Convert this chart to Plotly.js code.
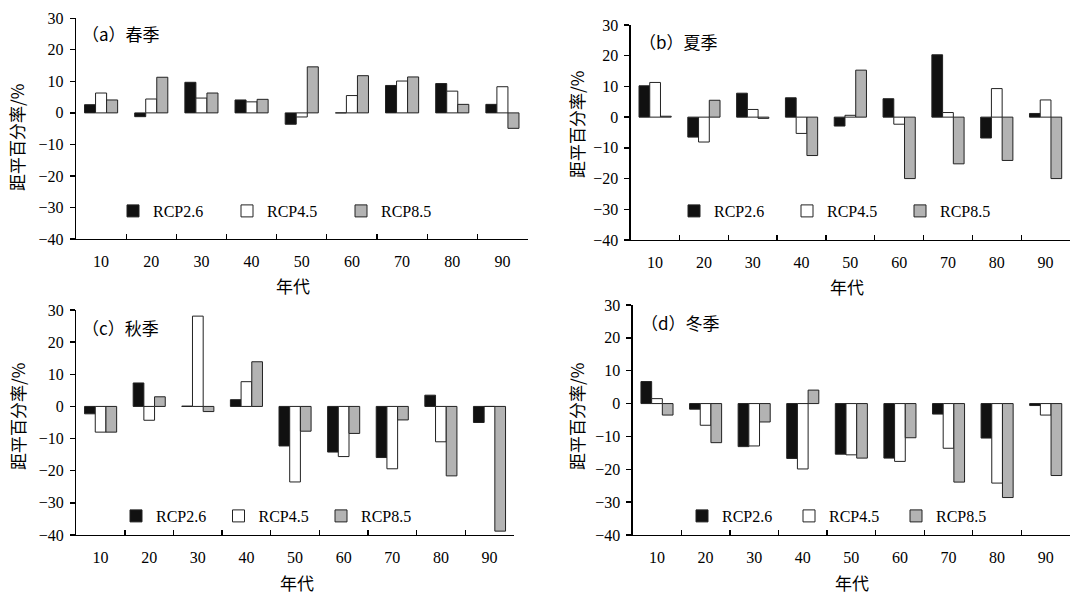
<!DOCTYPE html>
<html>
<head>
<meta charset="utf-8">
<script src="https://cdn.plot.ly/plotly-3.0.1.min.js"></script>
<style>html,body{margin:0;padding:0;background:#fff;}#chart{width:1070px;height:596px;}</style>
</head>
<body>
<div id="chart"></div>
<script>
// ---- data ----
const decades = ['10','20','30','40','50','60','70','80','90'];
const seriesNames = ['RCP2.6','RCP4.5','RCP8.5'];
const panelTitles = ['（a）春季','（b）夏季','（c）秋季','（d）冬季'];
const xTitle = '年代';
const yTitle = '距平百分率/%';

const spring26 = [2.6,-1.2,9.7,4.1,-3.6,0,8.7,9.3,2.7];
const spring45 = [6.3,4.4,4.7,3.5,-1.3,5.5,10.1,6.9,8.3];
const spring85 = [4.1,11.3,6.3,4.3,14.6,11.8,11.4,2.7,-4.9];

const summer26 = [10.2,-6.5,7.8,6.3,-2.9,6.0,20.3,-6.8,1.2];
const summer45 = [11.3,-8.1,2.5,-5.3,0.6,-2.3,1.5,9.3,5.6];
const summer85 = [0.3,5.5,-0.4,-12.5,15.3,-20.0,-15.2,-14.1,-20.0];

const autumn26 = [-2.3,7.3,0.1,2.1,-12.3,-14.2,-15.9,3.5,-5.0];
const autumn45 = [-8.0,-4.3,28.1,7.7,-23.5,-15.6,-19.4,-11.0,0];
const autumn85 = [-8.0,3.0,-1.6,13.9,-7.7,-8.4,-4.2,-21.6,-38.8];

const winter26 = [6.7,-1.7,-13.1,-16.7,-15.4,-16.6,-3.2,-10.5,-0.6];
const winter45 = [1.5,-6.6,-12.9,-19.9,-15.6,-17.6,-13.6,-24.2,-3.5];
const winter85 = [-3.5,-11.9,-5.6,4.1,-16.6,-10.4,-23.9,-28.6,-21.9];

const yRange = [-40, 30];

// ---- styles / layout ----
const W = 1070, H = 596;
const FONT = 'Liberation Serif';
const CJK = 'Noto Sans CJK SC';
const fills = ['#111111', '#ffffff', '#b3b3b3'];

function xd(l, r) { return [l / W, Math.min(r / W, 1)]; }
function yd(b, t) { return [1 - b / H, 1 - t / H]; }

const panels = [
  { data: [spring26, spring45, spring85], xdom: xd(76, 527.5),   ydom: yd(239, 18.3), title: [80, 34],  legend: {x: 113, y: 211, w: 69}, ytl: [17, 138], xtl: [293, 285] },
  { data: [summer26, summer45, summer85], xdom: xd(630.7, 1070), ydom: yd(240, 25),   title: [637, 41], legend: {x: 674, y: 211, w: 68}, ytl: [576, 125], xtl: [847, 287] },
  { data: [autumn26, autumn45, autumn85], xdom: xd(76.3, 513.8), ydom: yd(535, 310),  title: [80, 327], legend: {x: 116, y: 516, w: 57.5}, ytl: [17, 417], xtl: [297, 582] },
  { data: [winter26, winter45, winter85], xdom: xd(632.7, 1070), ydom: yd(535, 305),  title: [639, 322], legend: {x: 682, y: 516, w: 62}, ytl: [576, 417], xtl: [852, 582] }
];

const traces = [];
const layout = {
  width: W, height: H,
  margin: {l: 0, r: 0, t: 0, b: 0},
  paper_bgcolor: '#fff', plot_bgcolor: 'rgba(0,0,0,0)',
  barmode: 'group', bargap: 0.34, bargroupgap: 0,
  font: {family: FONT, size: 16, color: '#000'},
  showlegend: true,
  annotations: []
};

panels.forEach((p, i) => {
  const n = i + 1;
  const xs = n === 1 ? '' : String(n);
  const legendId = n === 1 ? 'legend' : 'legend' + n;
  p.data.forEach((vals, k) => {
    traces.push({
      type: 'bar', x: decades, y: vals, name: seriesNames[k],
      xaxis: 'x' + xs, yaxis: 'y' + xs, legend: legendId,
      marker: {color: fills[k], line: {color: '#222', width: 1}},
      hoverinfo: 'skip'
    });
  });
  const zeroFrac = p.ydom[0] + (p.ydom[1] - p.ydom[0]) * (0 - yRange[0]) / (yRange[1] - yRange[0]);
  layout['xaxis' + xs] = {
    domain: p.xdom, anchor: 'y' + xs, type: 'category',
    range: [-0.5, decades.length - 0.5],
    showline: true, linecolor: '#000', linewidth: 1.3,
    ticks: 'inside', ticklen: 5, tickwidth: 1.3, tickcolor: '#000', tickson: 'boundaries',
    tickfont: {family: FONT, size: 16}, ticklabelstandoff: 7,
    showgrid: false, zeroline: false, fixedrange: true
  };
  layout['yaxis' + xs] = {
    domain: p.ydom, anchor: 'x' + xs, range: yRange, dtick: 10,
    showline: true, linecolor: '#000', linewidth: 1.3,
    ticks: 'outside', ticklen: 5, tickwidth: 1.3, tickcolor: '#000',
    tickfont: {family: FONT, size: 16}, ticklabelstandoff: 3,
    showgrid: false, zeroline: false, fixedrange: true
  };
  // axis line through zero with boundary ticks
  layout['xaxis' + (n + 4)] = {
    domain: p.xdom, overlaying: 'x' + xs, anchor: 'free', position: zeroFrac,
    type: 'linear', range: [-0.5, decades.length - 0.5], tick0: -0.5, dtick: 1,
    showline: true, linecolor: '#000', linewidth: 1.3,
    ticks: 'inside', ticklen: 5, tickwidth: 1.3, tickcolor: '#000',
    showticklabels: false, showgrid: false, zeroline: false, fixedrange: true
  };
  layout[legendId] = {
    orientation: 'h', x: p.legend.x / W, xanchor: 'left',
    y: 1 - p.legend.y / H, yanchor: 'middle',
    entrywidth: p.legend.w, entrywidthmode: 'pixels',
    itemwidth: 30, bgcolor: 'rgba(0,0,0,0)', borderwidth: 0,
    font: {family: FONT, size: 16, color: '#000'}, traceorder: 'normal'
  };
  layout.annotations.push({
    text: panelTitles[i], xref: 'paper', yref: 'paper',
    x: p.title[0] / W, y: 1 - p.title[1] / H, xanchor: 'left', yanchor: 'middle',
    showarrow: false, font: {family: CJK, size: 17}
  });
  layout.annotations.push({
    text: yTitle, xref: 'paper', yref: 'paper', textangle: -90,
    x: p.ytl[0] / W, y: 1 - p.ytl[1] / H, xanchor: 'center', yanchor: 'middle',
    showarrow: false, font: {family: CJK, size: 17}
  });
  layout.annotations.push({
    text: xTitle, xref: 'paper', yref: 'paper',
    x: p.xtl[0] / W, y: 1 - p.xtl[1] / H, xanchor: 'center', yanchor: 'middle',
    showarrow: false, font: {family: CJK, size: 17}
  });
});

Plotly.newPlot('chart', traces, layout, {staticPlot: true, displayModeBar: false});
</script>
</body>
</html>
